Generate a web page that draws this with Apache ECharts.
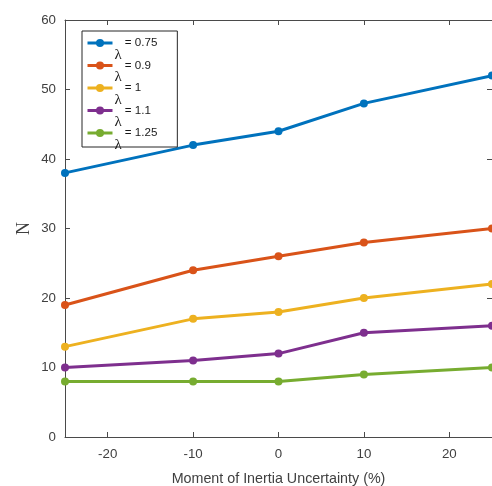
<!DOCTYPE html>
<html>
<head>
<meta charset="utf-8">
<script src="https://cdn.jsdelivr.net/npm/echarts@6/dist/echarts.min.js"></script>
<style>
  html, body { margin: 0; padding: 0; background: #fff; }
  #chart { width: 492px; height: 486px; }
</style>
</head>
<body>
<div id="chart"></div>
<script>
// Moment of inertia uncertainty (%) on the x axis
const uncertainty = [-25, -10, 0, 10, 25];
const xTicks = [-20, -10, 0, 10, 20];

// N for each value of lambda
const lambdas = ['0.75', '0.9', '1', '1.1', '1.25'];
const nLambda075 = [38, 42, 44, 48, 52];
const nLambda090 = [19, 24, 26, 28, 30];
const nLambda100 = [13, 17, 18, 20, 22];
const nLambda110 = [10, 11, 12, 15, 16];
const nLambda125 = [8, 8, 8, 9, 10];

const seriesValues = [nLambda075, nLambda090, nLambda100, nLambda110, nLambda125];
const colors = ['#0072BD', '#D95319', '#EDB120', '#7E2F8E', '#77AC30'];

const sans = 'Liberation Sans, Arial, Helvetica, sans-serif';
const serif = 'Liberation Serif, Times New Roman, serif';
const axisColor = '#4a4a4a';
const labelColor = '#404040';

const series = lambdas.map((lam, i) => ({
  name: 'λ = ' + lam,
  type: 'line',
  data: uncertainty.map((x, j) => [x, seriesValues[i][j]]),
  symbol: 'circle',
  symbolSize: 8,
  showSymbol: true,
  clip: false,
  color: colors[i],
  lineStyle: { width: 3, color: colors[i] },
  itemStyle: { color: colors[i] },
  emphasis: { disabled: true },
  animation: false
}));

const chart = echarts.init(document.getElementById('chart'), null, { renderer: 'canvas' });

chart.setOption({
  animation: false,
  backgroundColor: '#fff',
  grid: { left: 65, right: 0, top: 20, bottom: 49, containLabel: false, outerBoundsMode: 'none' },
  xAxis: [
    {
      type: 'value',
      min: -25,
      max: 25,
      position: 'bottom',
      name: 'Moment of Inertia Uncertainty (%)',
      nameLocation: 'middle',
      nameGap: 35,
      nameMoveOverlap: false,
      nameTextStyle: { fontFamily: sans, fontSize: 14.3, color: labelColor },
      axisLine: { show: true, onZero: false, lineStyle: { color: axisColor, width: 1 } },
      axisTick: { show: true, inside: true, length: 5, customValues: xTicks, lineStyle: { color: axisColor } },
      axisLabel: { show: true, customValues: xTicks, margin: 11, fontFamily: sans, fontSize: 13.3, color: labelColor },
      splitLine: { show: false }
    },
    {
      type: 'value',
      min: -25,
      max: 25,
      position: 'top',
      axisLine: { show: true, onZero: false, lineStyle: { color: axisColor, width: 1 } },
      axisTick: { show: true, inside: true, length: 5, customValues: xTicks, lineStyle: { color: axisColor } },
      axisLabel: { show: false },
      splitLine: { show: false }
    }
  ],
  yAxis: [
    {
      type: 'value',
      min: 0,
      max: 60,
      interval: 10,
      position: 'left',
      name: 'N',
      nameLocation: 'middle',
      nameGap: 32,
      nameRotate: 90,
      nameMoveOverlap: false,
      nameTextStyle: { fontFamily: serif, fontSize: 18, color: labelColor },
      axisLine: { show: true, onZero: false, lineStyle: { color: axisColor, width: 1 } },
      axisTick: { show: true, inside: true, length: 5, lineStyle: { color: axisColor } },
      axisLabel: { show: true, margin: 9, fontFamily: sans, fontSize: 13.3, color: labelColor },
      splitLine: { show: false }
    },
    {
      type: 'value',
      min: 0,
      max: 60,
      interval: 10,
      position: 'right',
      axisLine: { show: true, onZero: false, lineStyle: { color: axisColor, width: 1 } },
      axisTick: { show: true, inside: true, length: 5, lineStyle: { color: axisColor } },
      axisLabel: { show: false },
      splitLine: { show: false }
    }
  ],
  legend: {
    orient: 'vertical',
    left: 82,
    top: 31,
    // the lambda sits below the row centre, so the text boxes overhang the frame
    padding: [-7.5, 20, -5.5, 4],
    itemWidth: 25,
    itemHeight: 10,
    itemGap: -16.5,
    borderColor: '#262626',
    borderWidth: 1,
    backgroundColor: '#ffffff',
    lineStyle: { width: 3 },
    selectedMode: false,
    formatter: (name) => '{l|λ}{s|= ' + name.split('= ')[1] + '}',
    textStyle: {
      rich: {
        l: { fontFamily: serif, fontSize: 15, lineHeight: 15, padding: [24, 3, 0, -3], color: '#1a1a1a' },
        s: { fontFamily: sans, fontSize: 11.6, lineHeight: 12, padding: [13.5, 0, 13.5, 0], color: '#1a1a1a' }
      }
    }
  },
  series: series
});
</script>
</body>
</html>
